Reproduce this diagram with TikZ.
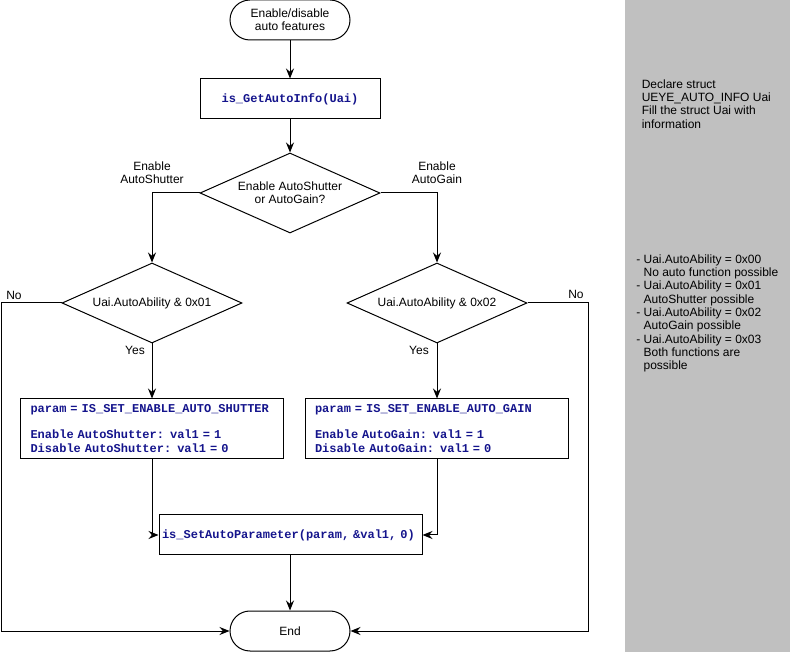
\documentclass[tikz,border=0pt]{standalone}
\usepackage{fontspec}
\setmainfont{Liberation Sans}
\setmonofont{Liberation Mono}
\usetikzlibrary{shapes.geometric,arrows.meta}
\definecolor{codeblue}{RGB}{20,20,140}
\definecolor{panelgrey}{RGB}{192,192,192}
\newcommand{\codefont}{\fontsize{9pt}{10.5pt}\selectfont\ttfamily\bfseries\spaceskip=0.6em\relax}
\begin{document}
\begin{tikzpicture}[x=0.75pt,y=-0.75pt,
  every node/.style={font=\fontsize{9pt}{10pt}\selectfont},
  arr/.style={line width=0.75pt,-{Stealth[length=7.5pt,width=6pt,inset=2.5pt]}},
  term/.style={draw,line width=0.75pt,rounded corners=15pt,minimum width=90pt,minimum height=30pt,align=center,inner sep=0pt},
  procbox/.style={draw,line width=0.75pt,minimum width=135pt,minimum height=30pt,inner sep=0pt,font=\codefont,text=codeblue},
  codebox/.style={draw,line width=0.75pt,minimum width=197.25pt,minimum height=45pt,text width=182.25pt,inner xsep=7.5pt,inner ysep=0pt,align=left,font=\codefont,text=codeblue},
  callbox/.style={draw,line width=0.75pt,minimum width=197.25pt,minimum height=30pt,text width=192.75pt,inner xsep=2.25pt,inner ysep=0pt,align=left,font=\codefont,text=codeblue},
  decision/.style={draw,line width=0.75pt,diamond,aspect=2.25,minimum width=135pt,minimum height=60pt,inner sep=0pt,align=center},
  lbl/.style={align=center,inner sep=0pt},
  paneltext/.style={align=left,inner sep=0pt,anchor=west}
]
\useasboundingbox (0,0) rectangle (790,652);
\fill[panelgrey] (625,0.5) rectangle (789.5,652);
\node[paneltext] (info1) at (641.5,104) {Declare struct\\UEYE\_AUTO\_INFO Uai\\Fill the struct Uai with\\information};
\node[paneltext] (info2) at (636,313.3) {- Uai.AutoAbility = 0x00\\\hphantom{- }No auto function possible\\- Uai.AutoAbility = 0x01\\\hphantom{- }AutoShutter possible\\- Uai.AutoAbility = 0x02\\\hphantom{- }AutoGain possible\\- Uai.AutoAbility = 0x03\\\hphantom{- }Both functions are\\\hphantom{- }possible};

\node[term] (start) at (290,20) {Enable/disable\\auto features};
\node[procbox] (info) at (290,99) {is\_GetAutoInfo(Uai)};
\node[decision] (d1) at (290,193) {Enable AutoShutter\\or AutoGain?};
\node[decision] (d2) at (152,303) {Uai.AutoAbility \& 0x01};
\node[decision] (d3) at (437,303) {Uai.AutoAbility \& 0x02};
\node[codebox] (b2) at (152,429) {\mbox{param = IS\_SET\_ENABLE\_AUTO\_SHUTTER}\\[9pt]\mbox{Enable AutoShutter: val1 = 1}\\\mbox{Disable AutoShutter: val1 = 0}};
\node[codebox] (b3) at (436.5,429) {\mbox{param = IS\_SET\_ENABLE\_AUTO\_GAIN}\\[9pt]\mbox{Enable AutoGain: val1 = 1}\\\mbox{Disable AutoGain: val1 = 0}};
\node[callbox] (b4) at (290.5,535) {\mbox{is\_SetAutoParameter(param, \&val1, 0)}};
\node[term] (endn) at (290,631) {End};

\node[lbl] (l1) at (152,173) {Enable\\AutoShutter};
\node[lbl] (l2) at (437,173) {Enable\\AutoGain};
\node[lbl] (no1) at (14,295) {No};
\node[lbl] (no2) at (576,294) {No};
\node[lbl] (yes1) at (135,350) {Yes};
\node[lbl] (yes2) at (419,350) {Yes};

\coordinate (lc) at (1,303);
\coordinate (rc) at (588,303);

\draw[arr] (start) -- (info);
\draw[arr] (info) -- (d1);
\draw[arr] (d1.west) -| (d2.north);
\draw[arr] (d1.east) -| (d3.north);
\draw[arr] (d2.south) -- (d2.south |- b2.north);
\draw[arr] (d3.south) -- (d3.south |- b3.north);
\draw[arr] (d2.south |- b2.south) |- (b4.west);
\draw[arr] (d3.south |- b3.south) |- (b4.east);
\draw[arr] (b4.south -| endn.north) -- (endn.north);
\draw[arr] (d2.west) -- (lc) |- (endn.west);
\draw[arr] (d3.east) -- (rc) |- (endn.east);
\end{tikzpicture}
\end{document}
